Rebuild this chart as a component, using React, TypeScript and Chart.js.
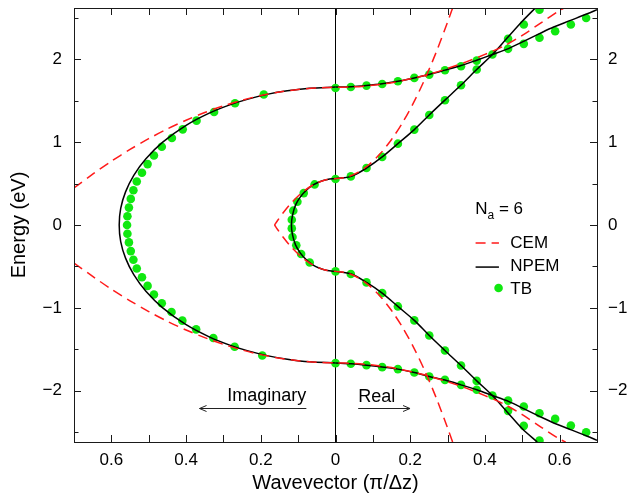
import { useEffect, useRef } from 'react';
import { Chart, registerables } from 'chart.js';

Chart.register(...registerables);

// ---- axes ----
const X_MIN = -0.7;
const X_MAX = 0.7;
const Y_MIN = -2.62;
const Y_MAX = 2.62;
const X_LABEL_TICKS = [-0.6, -0.4, -0.2, 0, 0.2, 0.4, 0.6];
const X_MARK_TICKS = [-0.6, -0.5, -0.4, -0.3, -0.2, -0.1, 0, 0.1, 0.2, 0.3, 0.4, 0.5, 0.6];
const Y_LABEL_TICKS = [-2, -1, 0, 1, 2];
const Y_MINOR_TICKS = [-2.5, -1.5, -0.5, 0.5, 1.5, 2.5];

// ---- NPEM (black solid) : [k, E]; negative k = imaginary part ----
const NPEM_OUTER_IMAG: [number, number][] = [
  [0, 1.665], [-0.07, 1.652], [-0.129, 1.62], [-0.18, 1.58], [-0.234, 1.52], [-0.283, 1.45],
  [-0.338, 1.35], [-0.401, 1.2], [-0.4625, 1.0], [-0.5075, 0.8], [-0.54, 0.6], [-0.562, 0.4],
  [-0.575, 0.2], [-0.579, 0], [-0.575, -0.2], [-0.562, -0.4], [-0.54, -0.6], [-0.5075, -0.8],
  [-0.4625, -1.0], [-0.401, -1.2], [-0.338, -1.35], [-0.283, -1.45], [-0.234, -1.52],
  [-0.18, -1.58], [-0.129, -1.62], [-0.07, -1.652], [0, -1.665],
];
const NPEM_INNER_IMAG: [number, number][] = [
  [0, 0.56], [-0.022, 0.55], [-0.044, 0.52], [-0.061, 0.48], [-0.078, 0.42], [-0.094, 0.34],
  [-0.107, 0.24], [-0.115, 0.12], [-0.118, 0], [-0.115, -0.12], [-0.107, -0.24], [-0.094, -0.34],
  [-0.078, -0.42], [-0.061, -0.48], [-0.044, -0.52], [-0.022, -0.55], [0, -0.56],
];
const NPEM_UPPER_REAL: [number, number][] = [
  [0, 1.665], [0.042, 1.669], [0.083, 1.684], [0.125, 1.705], [0.167, 1.735], [0.211, 1.776],
  [0.251, 1.818], [0.293, 1.87], [0.336, 1.925], [0.378, 1.99], [0.42, 2.058], [0.463, 2.13],
  [0.505, 2.22], [0.546, 2.31], [0.584, 2.39], [0.629, 2.47], [0.674, 2.55], [0.7, 2.6],
];
const NPEM_LOWER_REAL: [number, number][] = [
  [0, -1.665], [0.042, -1.675], [0.083, -1.692], [0.125, -1.714], [0.167, -1.74], [0.211, -1.781],
  [0.251, -1.828], [0.293, -1.872], [0.336, -1.93], [0.378, -1.99], [0.42, -2.059], [0.463, -2.13],
  [0.505, -2.22], [0.546, -2.31], [0.584, -2.39], [0.629, -2.47], [0.674, -2.55], [0.7, -2.6],
];
const NPEM_CB_REAL: [number, number][] = [
  [0, 0.56], [0.042, 0.587], [0.083, 0.687], [0.125, 0.822], [0.167, 0.982], [0.211, 1.152],
  [0.251, 1.329], [0.293, 1.508], [0.336, 1.69], [0.378, 1.877], [0.42, 2.058], [0.46, 2.26],
  [0.5, 2.46], [0.535, 2.62],
];
const NPEM_VB_REAL: [number, number][] = [
  [0, -0.56], [0.042, -0.592], [0.083, -0.693], [0.125, -0.822], [0.167, -0.983], [0.211, -1.152],
  [0.251, -1.334], [0.293, -1.515], [0.336, -1.697], [0.378, -1.882], [0.42, -2.059], [0.46, -2.26],
  [0.5, -2.46], [0.54, -2.62],
];

// ---- CEM (red dashed) ----
const CEM_OUTER_UPPER: [number, number][] = [
  [-0.7, 0.447], [-0.65, 0.614], [-0.6, 0.769], [-0.55, 0.912], [-0.5, 1.042], [-0.45, 1.16],
  [-0.4, 1.265], [-0.35, 1.358], [-0.3, 1.439], [-0.25, 1.507], [-0.2, 1.563], [-0.15, 1.606],
  [-0.1, 1.637], [-0.05, 1.656], [0, 1.662], [0.05, 1.668], [0.1, 1.687], [0.15, 1.718],
  [0.2, 1.765], [0.25, 1.82], [0.3, 1.89], [0.35, 1.97], [0.4, 2.06], [0.45, 2.16],
  [0.5, 2.29], [0.55, 2.44], [0.6, 2.59], [0.612, 2.62],
];
const CEM_OUTER_LOWER: [number, number][] = [
  [-0.7, -0.46], [-0.65, -0.62], [-0.6, -0.775], [-0.55, -0.915], [-0.5, -1.045], [-0.45, -1.163],
  [-0.4, -1.268], [-0.35, -1.36], [-0.3, -1.441], [-0.25, -1.509], [-0.2, -1.565], [-0.15, -1.608],
  [-0.1, -1.639], [-0.05, -1.658], [0, -1.665], [0.05, -1.671], [0.1, -1.69], [0.15, -1.721],
  [0.2, -1.768], [0.25, -1.823], [0.3, -1.893], [0.35, -1.97], [0.4, -2.06], [0.45, -2.16],
  [0.5, -2.29], [0.55, -2.44], [0.6, -2.585], [0.616, -2.62],
];
const CEM_CB: [number, number][] = [
  [0.3135, 2.62], [0.3, 2.45], [0.27, 2.091], [0.24, 1.77], [0.21, 1.486], [0.18, 1.24],
  [0.15, 1.033], [0.12, 0.862], [0.09, 0.73], [0.06, 0.636], [0.03, 0.579], [0, 0.56],
  [-0.03, 0.541], [-0.06, 0.484], [-0.09, 0.39], [-0.12, 0.258], [-0.14, 0.148],
  [-0.155, 0.055], [-0.1633, 0],
];
const CEM_VB: [number, number][] = [
  [0.3135, -2.62], [0.3, -2.45], [0.27, -2.091], [0.24, -1.77], [0.21, -1.486], [0.18, -1.24],
  [0.15, -1.033], [0.12, -0.862], [0.09, -0.73], [0.06, -0.636], [0.03, -0.579], [0, -0.56],
  [-0.03, -0.541], [-0.06, -0.484], [-0.09, -0.39], [-0.12, -0.258], [-0.14, -0.148],
  [-0.155, -0.055], [-0.1633, 0],
];

// ---- TB (green dots) ----
const TB_OUTER_IMAG: [number, number][] = [
  [-0.192, 1.575], [-0.269, 1.47], [-0.325, 1.365], [-0.372, 1.26], [-0.409, 1.155], [-0.438, 1.05],
  [-0.465, 0.945], [-0.486, 0.84], [-0.503, 0.735], [-0.518, 0.63], [-0.532, 0.525], [-0.541, 0.42],
  [-0.548, 0.315], [-0.553, 0.21], [-0.557, 0.105], [-0.558, 0], [-0.557, -0.105], [-0.553, -0.21],
  [-0.548, -0.315], [-0.541, -0.42], [-0.532, -0.525], [-0.518, -0.63], [-0.503, -0.735],
  [-0.486, -0.84], [-0.465, -0.945], [-0.439, -1.05], [-0.41, -1.155], [-0.373, -1.26],
  [-0.327, -1.365], [-0.27, -1.47], [-0.196, -1.575],
];
const TB_INNER_IMAG: [number, number][] = [
  [-0.056, 0.49], [-0.085, 0.385], [-0.102, 0.28], [-0.113, 0.173], [-0.117, 0.064],
  [-0.117, -0.041], [-0.115, -0.145], [-0.105, -0.246], [-0.092, -0.35], [-0.069, -0.452],
];
const TB_CB_REAL: [number, number][] = [
  [0, 0.556], [0.041, 0.587], [0.083, 0.689], [0.125, 0.822], [0.167, 0.982], [0.211, 1.152],
  [0.251, 1.329], [0.293, 1.506], [0.336, 1.687], [0.378, 1.877], [0.42, 2.058], [0.462, 2.248],
  [0.504, 2.42], [0.546, 2.6],
];
const TB_UPPER_REAL: [number, number][] = [
  [0, 1.655], [0.041, 1.667], [0.083, 1.683], [0.125, 1.703], [0.167, 1.735], [0.211, 1.776],
  [0.251, 1.816], [0.293, 1.868], [0.336, 1.917], [0.378, 1.985], [0.462, 2.127], [0.504, 2.187],
  [0.546, 2.26], [0.588, 2.34], [0.63, 2.42], [0.671, 2.5],
];
const TB_VB_REAL: [number, number][] = [
  [0, -0.56], [0.041, -0.592], [0.083, -0.693], [0.125, -0.822], [0.167, -0.983], [0.211, -1.152],
  [0.251, -1.334], [0.293, -1.515], [0.336, -1.697], [0.378, -1.882], [0.42, -2.059],
  [0.462, -2.244], [0.504, -2.425], [0.546, -2.603],
];
const TB_LOWER_REAL: [number, number][] = [
  [0, -1.668], [0.041, -1.676], [0.083, -1.692], [0.125, -1.716], [0.167, -1.74], [0.211, -1.781],
  [0.251, -1.83], [0.293, -1.87], [0.336, -1.93], [0.378, -1.99], [0.462, -2.12], [0.504, -2.192],
  [0.546, -2.272], [0.588, -2.341], [0.63, -2.422], [0.671, -2.502],
];

// ---- text ----
const X_TITLE = 'Wavevector (π/Δz)';
const Y_TITLE = 'Energy (eV)';
const LEGEND_LABELS = ['CEM', 'NPEM', 'TB'];

const FONT = '"Liberation Sans", Arial, Helvetica, sans-serif';
const RED = '#ff1a1a';
const BLACK = '#000000';
const GREEN = 'rgb(16,232,16)';
const DASH = [10, 6];

const toPts = (arr: [number, number][]) => arr.map(([x, y]) => ({ x, y }));

const lineDs = (pts: [number, number][], color: string, dash: number[], order: number, width = 1.5, tension = 0.3) => ({
  data: toPts(pts),
  showLine: true,
  borderColor: color,
  backgroundColor: color,
  borderWidth: width,
  borderDash: dash,
  pointRadius: 0,
  pointHoverRadius: 0,
  fill: false,
  tension,
  order,
});

const decorPlugin = {
  id: 'decor',
  afterDraw(chart: any) {
    const { ctx, chartArea: a, scales } = chart;
    const xs = scales.x;
    const ys = scales.y;
    const px = (v: number) => xs.getPixelForValue(v);
    const py = (v: number) => ys.getPixelForValue(v);
    ctx.save();
    // ticks
    ctx.strokeStyle = '#1a1a1a';
    ctx.lineWidth = 1;
    ctx.beginPath();
    for (const v of X_MARK_TICKS) {
      const x = Math.round(px(v)) + 0.5;
      ctx.moveTo(x, a.bottom); ctx.lineTo(x, a.bottom - 7);
      ctx.moveTo(x, a.top); ctx.lineTo(x, a.top + 7);
    }
    for (const v of Y_LABEL_TICKS) {
      const y = Math.round(py(v)) + 0.5;
      ctx.moveTo(a.left, y); ctx.lineTo(a.left + 7, y);
      ctx.moveTo(a.right, y); ctx.lineTo(a.right - 7, y);
    }
    for (const v of Y_MINOR_TICKS) {
      const y = Math.round(py(v)) + 0.5;
      ctx.moveTo(a.left, y); ctx.lineTo(a.left + 4.5, y);
      ctx.moveTo(a.right, y); ctx.lineTo(a.right - 4.5, y);
    }
    ctx.stroke();
    // frame
    ctx.strokeRect(Math.round(a.left) + 0.5, Math.round(a.top) + 0.5, Math.round(a.right - a.left), Math.round(a.bottom - a.top));

    // legend
    ctx.fillStyle = '#000';
    ctx.textBaseline = 'alphabetic';
    ctx.textAlign = 'left';
    ctx.font = `17px ${FONT}`;
    const nx = px(0.374);
    const nb = py(0.133);
    ctx.fillText('N', nx, nb);
    const nw = ctx.measureText('N').width;
    ctx.font = `12px ${FONT}`;
    ctx.fillText('a', nx + nw, nb + 5);
    const aw = ctx.measureText('a').width;
    ctx.font = `17px ${FONT}`;
    ctx.fillText(' = 6', nx + nw + aw, nb);

    const sx0 = px(0.375);
    const sx1 = px(0.4375);
    const tx = px(0.468);
    const rows = [-0.218, -0.508, -0.761];
    const bases = [-0.278, -0.561, -0.834];
    // CEM sample
    ctx.strokeStyle = RED;
    ctx.lineWidth = 1.5;
    ctx.setLineDash(DASH);
    ctx.beginPath(); ctx.moveTo(sx0, py(rows[0])); ctx.lineTo(sx1, py(rows[0])); ctx.stroke();
    ctx.setLineDash([]);
    // NPEM sample
    ctx.strokeStyle = BLACK;
    ctx.beginPath(); ctx.moveTo(sx0, py(rows[1])); ctx.lineTo(sx1, py(rows[1])); ctx.stroke();
    // TB sample
    ctx.fillStyle = GREEN;
    ctx.beginPath(); ctx.arc(px(0.4365), py(rows[2]), 4.3, 0, Math.PI * 2); ctx.fill();
    ctx.fillStyle = '#000';
    LEGEND_LABELS.forEach((t, i) => ctx.fillText(t, tx, py(bases[i])));

    // annotations
    ctx.font = `18px ${FONT}`;
    ctx.textAlign = 'right';
    ctx.fillText('Imaginary', px(-0.078), py(-2.12));
    ctx.textAlign = 'left';
    ctx.fillText('Real', px(0.0607), py(-2.132));
    ctx.strokeStyle = '#222';
    ctx.lineWidth = 1;
    const arrow = (x0: number, x1: number, yv: number) => {
      const y = Math.round(py(yv)) + 0.5;
      const a0 = px(x0);
      const a1 = px(x1);
      const dir = a1 > a0 ? 1 : -1;
      ctx.beginPath();
      ctx.moveTo(a0, y); ctx.lineTo(a1, y);
      ctx.moveTo(a1 - dir * 7, y - 3); ctx.lineTo(a1, y); ctx.lineTo(a1 - dir * 7, y + 3);
      ctx.stroke();
    };
    arrow(-0.078, -0.364, -2.211);
    arrow(0.0607, 0.1995, -2.211);
    ctx.restore();
  },
};

const noPad = (s: any) => {
  s.paddingTop = 0;
  s.paddingBottom = 0;
  s.paddingLeft = 0;
  s.paddingRight = 0;
};

export default function App() {
  const ref = useRef<HTMLCanvasElement>(null);
  useEffect(() => {
    document.body.style.margin = '0';
    const tb = [
      ...TB_OUTER_IMAG, ...TB_INNER_IMAG, ...TB_CB_REAL, ...TB_UPPER_REAL, ...TB_VB_REAL, ...TB_LOWER_REAL,
    ];
    const tickFont = { family: FONT, size: 17 };
    const titleFont = { family: FONT, size: 20 };
    const chart = new Chart(ref.current as HTMLCanvasElement, {
      type: 'scatter',
      data: {
        datasets: [
          lineDs([[0, Y_MIN], [0, Y_MAX]], BLACK, [], 4, 1, 0) as any,
          {
            data: toPts(tb),
            pointRadius: 4.3,
            pointHoverRadius: 4.3,
            pointBackgroundColor: GREEN,
            pointBorderWidth: 0,
            borderColor: GREEN,
            backgroundColor: GREEN,
            showLine: false,
            order: 3,
          } as any,
          lineDs(NPEM_OUTER_IMAG, BLACK, [], 2) as any,
          lineDs(NPEM_INNER_IMAG, BLACK, [], 2) as any,
          lineDs(NPEM_UPPER_REAL, BLACK, [], 2) as any,
          lineDs(NPEM_LOWER_REAL, BLACK, [], 2) as any,
          lineDs(NPEM_CB_REAL, BLACK, [], 2) as any,
          lineDs(NPEM_VB_REAL, BLACK, [], 2) as any,
          lineDs(CEM_OUTER_UPPER, RED, DASH, 1) as any,
          lineDs(CEM_OUTER_LOWER, RED, DASH, 1) as any,
          lineDs(CEM_CB, RED, DASH, 1) as any,
          lineDs(CEM_VB, RED, DASH, 1) as any,
        ],
      },
      options: {
        responsive: false,
        animation: false,
        devicePixelRatio: 1,
        events: [],
        layout: { padding: { top: 8, left: 0, right: 0, bottom: 0 } },
        plugins: { legend: { display: false }, tooltip: { enabled: false } },
        scales: {
          x: {
            type: 'linear',
            position: 'bottom',
            min: X_MIN,
            max: X_MAX,
            grid: { display: false, drawTicks: false },
            border: { display: false },
            afterBuildTicks: (s: any) => { s.ticks = X_LABEL_TICKS.map((v) => ({ value: v })); },
            afterFit: (s: any) => { s.height = 58; noPad(s); },
            ticks: {
              autoSkip: false,
              maxRotation: 0,
              padding: 8,
              color: '#000',
              font: tickFont,
              callback: (v: any) => (Number(v) === 0 ? '0' : Math.abs(Number(v)).toFixed(1)),
            },
            title: { display: true, text: X_TITLE, color: '#000', font: titleFont, padding: { top: 0, bottom: 5 } },
          },
          y: {
            type: 'linear',
            position: 'left',
            min: Y_MIN,
            max: Y_MAX,
            grid: { display: false, drawTicks: false },
            border: { display: false },
            afterBuildTicks: (s: any) => { s.ticks = Y_LABEL_TICKS.map((v) => ({ value: v })); },
            afterFit: (s: any) => { s.width = 74; noPad(s); },
            ticks: {
              autoSkip: false,
              padding: 12,
              color: '#000',
              font: tickFont,
              callback: (v: any) => (Number(v) < 0 ? '\u2212' + Math.abs(Number(v)) : String(v)),
            },
            title: { display: true, text: Y_TITLE, color: '#000', font: titleFont, padding: { top: 7, bottom: 0 } },
          },
          y2: {
            type: 'linear',
            position: 'right',
            min: Y_MIN,
            max: Y_MAX,
            grid: { display: false, drawTicks: false },
            border: { display: false },
            afterBuildTicks: (s: any) => { s.ticks = Y_LABEL_TICKS.map((v) => ({ value: v })); },
            afterFit: (s: any) => { s.width = 33; noPad(s); },
            ticks: {
              autoSkip: false,
              padding: 11,
              color: '#000',
              font: tickFont,
              callback: (v: any) => (Number(v) < 0 ? '\u2212' + Math.abs(Number(v)) : String(v)),
            },
          },
        },
      } as any,
      plugins: [decorPlugin],
    });
    return () => chart.destroy();
  }, []);
  return (
    <div style={{ width: 630, height: 500 }}>
      <canvas ref={ref} width={630} height={500} style={{ display: 'block' }} />
    </div>
  );
}
